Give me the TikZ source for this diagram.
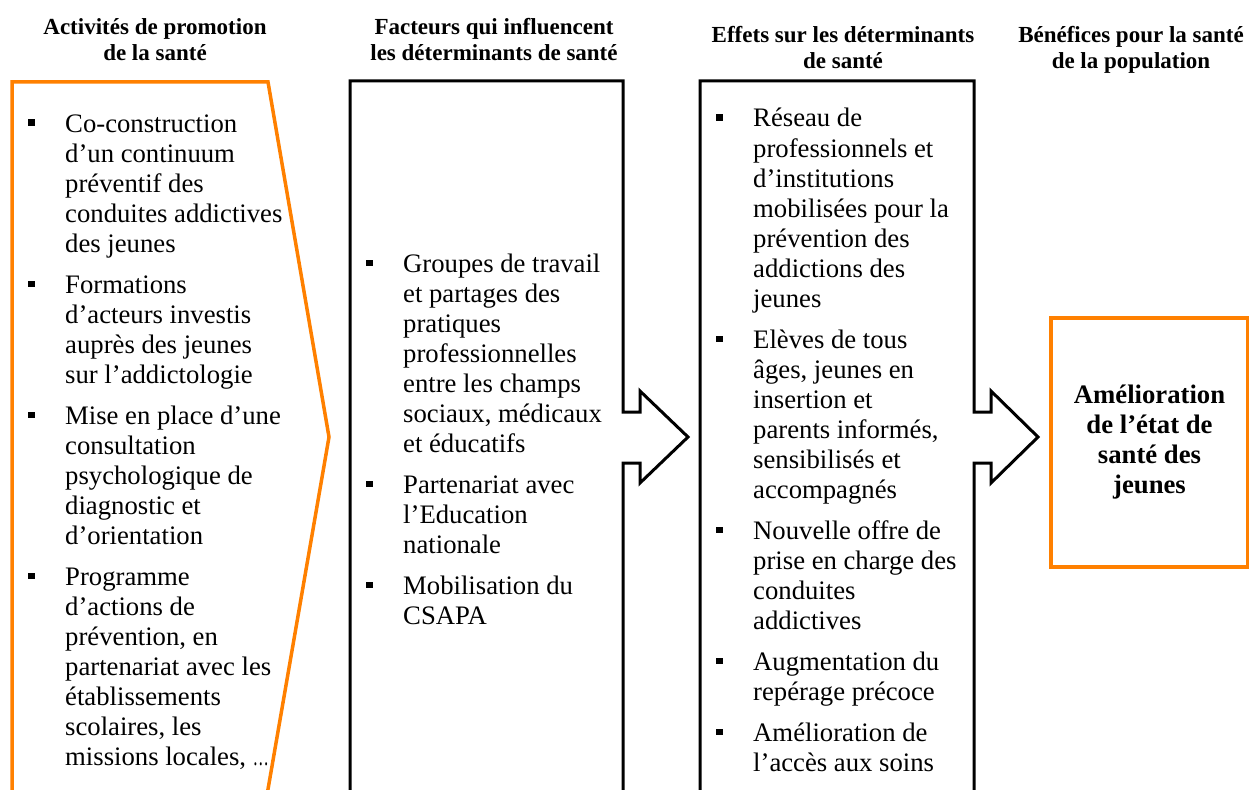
\documentclass[tikz,border=0pt]{standalone}
\usepackage{fontspec}
\setmainfont{Liberation Serif}
\definecolor{orng}{RGB}{255,128,0}
\tikzset{
  obox/.style={draw=orng, line width=3.5pt, line join=miter},
  bbox/.style={draw=black, line width=3pt, line join=miter},
  hdr/.style={font=\fontsize{23}{25.5}\selectfont\bfseries, inner sep=0pt, anchor=base},
  col/.style={inner sep=0pt, anchor=base west},
}
\newcommand\bitem[1]{\noindent\hangindent=37pt\hangafter=1\makebox[37pt][l]{\rule[6pt]{6.5pt}{6.5pt}}#1\par}
\newcommand\colbox[2]{\parbox[t]{#1}{\fontsize{26.7}{30}\selectfont\setlength{\parskip}{11pt}\rightskip=0pt plus 1fil\relax #2}}
\newcommand\hlines[1]{\begin{tabular}[t]{@{}c@{}}#1\end{tabular}}
\begin{document}
\begin{tikzpicture}[x=1pt,y=-1pt]
\useasboundingbox (0,0) rectangle (1249,789);
% headers
\node[hdr] (h1) at (155,35) {\hlines{Activités de promotion\\de la santé}};
\node[hdr] (h2) at (494,35) {\hlines{Facteurs qui influencent\\les déterminants de santé}};
\node[hdr] (h3) at (843,43) {\hlines{Effets sur les déterminants\\de santé}};
\node[hdr] (h4) at (1131,43) {\hlines{Bénéfices pour la santé\\de la population}};
% shapes
\draw[obox] (12,795) -- (12,82) -- (268,82) -- (329,437) -- (267,795);
\draw[bbox] (350,795) -- (350,81) -- (623,81) -- (623,412) -- (640,412) -- (640,391)
  -- (688,437) -- (640,483) -- (640,463) -- (623,463) -- (623,795);
\draw[bbox] (700,795) -- (700,81) -- (974,81) -- (974,412) -- (991,412) -- (991,391)
  -- (1038,437) -- (991,483) -- (991,463) -- (974,463) -- (974,795);
% column texts
\node[col] (c1) at (28,132) {\colbox{300pt}{%
\bitem{Co-construction\newline d’un continuum\newline préventif des\newline conduites addictives\newline des jeunes}
\bitem{Formations\newline d’acteurs investis\newline auprès des jeunes\newline sur l’addictologie}
\bitem{Mise en place d’une\newline consultation\newline psychologique de\newline diagnostic et\newline d’orientation}
\bitem{Programme\newline d’actions de\newline prévention, en\newline partenariat avec les\newline établissements\newline scolaires, les\newline missions locales, \scalebox{0.6}[1]{…}}}};
\node[col] (c2) at (366,272) {\colbox{300pt}{%
\bitem{Groupes de travail\newline et partages des\newline pratiques\newline professionnelles\newline entre les champs\newline sociaux, médicaux\newline et éducatifs}
\bitem{Partenariat avec\newline l’Education\newline nationale}
\bitem{Mobilisation du\newline CSAPA}}};
\node[col] (c3) at (716,127) {\colbox{300pt}{%
\bitem{Réseau de\newline professionnels et\newline d’institutions\newline mobilisées pour la\newline prévention des\newline addictions des\newline jeunes}
\bitem{Elèves de tous\newline âges, jeunes en\newline insertion et\newline parents informés,\newline sensibilisés et\newline accompagnés}
\bitem{Nouvelle offre de\newline prise en charge des\newline conduites\newline addictives}
\bitem{Augmentation du\newline repérage précoce}
\bitem{Amélioration de\newline l’accès aux soins}}};
% result box
\node[obox, minimum width=197pt, minimum height=249pt, inner sep=0pt, align=center,
  font=\fontsize{26.7}{30}\selectfont\bfseries] (res) at (1149.5,442.5)
  {Amélioration\\de l’état de\\santé des\\jeunes};
\end{tikzpicture}
\end{document}
